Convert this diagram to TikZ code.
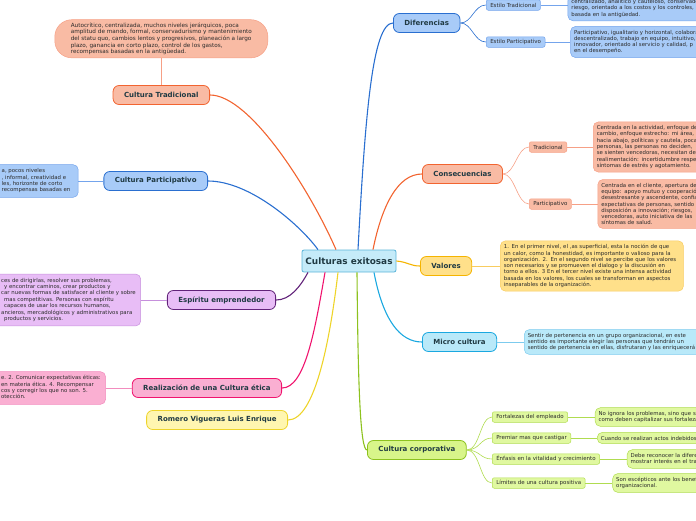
\documentclass[tikz,border=0pt]{standalone}
\usepackage{fontspec}
\setmainfont{DejaVu Sans}
\usetikzlibrary{positioning}

\definecolor{toptext}{HTML}{203A43}
\definecolor{notetext}{HTML}{2B2B2B}
\definecolor{cxfill}{HTML}{C5EBF9}
\definecolor{cxline}{HTML}{5BB4D8}
\definecolor{tradfill}{HTML}{F9BBA4}
\definecolor{tradline}{HTML}{F26430}
\definecolor{tradsoft}{HTML}{F6A086}
\definecolor{partfill}{HTML}{A8CBF8}
\definecolor{partline}{HTML}{2A6FD0}
\definecolor{partsoft}{HTML}{74A4EC}
\definecolor{espfill}{HTML}{E8BDF6}
\definecolor{espline}{HTML}{62237A}
\definecolor{espsoft}{HTML}{C690DC}
\definecolor{realfill}{HTML}{FAAFD2}
\definecolor{realline}{HTML}{F0146E}
\definecolor{realsoft}{HTML}{F28CBE}
\definecolor{romfill}{HTML}{FFF6B0}
\definecolor{romline}{HTML}{EED42A}
\definecolor{valfill}{HTML}{FFE08A}
\definecolor{valline}{HTML}{F5B400}
\definecolor{valsoft}{HTML}{F8CC60}
\definecolor{microfill}{HTML}{B9E9F9}
\definecolor{microline}{HTML}{1AA8E0}
\definecolor{microsoft}{HTML}{7CCBEE}
\definecolor{corpfill}{HTML}{D8F58A}
\definecolor{corpline}{HTML}{8DC21F}
\definecolor{corpsubfill}{HTML}{E0F8A0}
\definecolor{corpsoft}{HTML}{B0DC50}

% visible part of a note cut by the left edge
\newcommand{\cutleft}[2]{\hspace*{40pt}\makebox[#1][l]{\begin{tabular}{@{}l@{}}#2\end{tabular}}}

\tikzset{
  central/.style={draw=cxline, fill=cxfill, line width=0.8pt, rounded corners=2pt,
    minimum width=94pt, minimum height=22pt, text=toptext,
    font=\fontsize{8.9}{10}\selectfont\bfseries},
  topic/.style={draw, line width=0.8pt, rounded corners=6pt, minimum height=19pt,
    inner xsep=11pt, text=toptext, font=\fontsize{7}{8}\selectfont\bfseries},
  subtopic/.style={draw, line width=0.5pt, rounded corners=2pt, minimum height=10.5pt,
    inner xsep=4pt, inner ysep=1pt, text=notetext, font=\fontsize{5.5}{6.5}\selectfont},
  note/.style={draw, line width=0.5pt, rounded corners=5pt, inner sep=3.5pt, align=left,
    text=notetext, font=\fontsize{5.4}{6.3}\selectfont},
  cutnote/.style={draw, line width=0.5pt, rounded corners=5pt, inner sep=3.5pt,
    text=notetext, font=\fontsize{5.4}{6.4}\selectfont},
  branch/.style={line width=1.1pt},
  twig/.style={line width=0.6pt},
}

\begin{document}
\begin{tikzpicture}[x=1pt,y=-1pt,node distance=26pt]
\useasboundingbox (0,0) rectangle (696,520);
\clip (0,0) rectangle (696,520);

\node[central] (cx) at (349,261) {Culturas exitosas};

% left side
\node[topic, fill=tradfill, draw=tradline, anchor=east] (ctrad) at (210,95) {Cultura Tradicional};
\node[topic, fill=partfill, draw=partline, anchor=east] (cpart) at (208,181) {Cultura Participativo};
\node[topic, fill=espfill, draw=espline, anchor=east] (cesp) at (276,300) {Espíritu emprendedor};
\node[topic, fill=realfill, draw=realline, anchor=east] (creal) at (282,388) {Realización de una Cultura ética};
\node[topic, fill=romfill, draw=romline, anchor=east] (crom) at (288,420) {Romero Vigueras Luis Enrique};

\node[note, fill=tradfill, draw=tradsoft, rounded corners=17pt, inner xsep=16pt, inner ysep=3pt,
  font=\fontsize{5.7}{6.6}\selectfont, above=27pt of ctrad] (ctradn)
  {Autocrítico, centralizada, muchos niveles jerárquicos, poca\\
   amplitud de mando, formal, conservadurismo y mantenimiento\\
   del statu quo, cambios lentos y progresivos, planeación a largo\\
   plazo, ganancia en corto plazo, control de los gastos,\\
   recompensas basadas en la antigüedad.};
\node[cutnote, fill=partfill, draw=partsoft, left=25pt of cpart] (cpartn)
  {\cutleft{73pt}{a, pocos niveles\\, informal, creatividad e\\les, horizonte de corto\\recompensas basadas en}};
\node[cutnote, fill=espfill, draw=espsoft, left=26pt of cesp] (cespn)
  {\cutleft{136pt}{ces de dirigirlas, resolver sus problemas,\\
   \hspace*{3pt}y encontrar caminos, crear productos y\\
   car nuevas formas de satisfacer al cliente y sobre\\
   \hspace*{3pt}mas competitivas. Personas con espíritu\\
   \hspace*{3pt}capaces de usar los recursos humanos,\\
   ancieros, mercadológicos y administrativos para\\
   \hspace*{3pt}productos y servicios.}};
\node[cutnote, fill=realfill, draw=realsoft, left=26pt of creal] (crealn)
  {\cutleft{101pt}{e. 2. Comunicar expectativas éticas:\\en materia ética. 4. Recompensar\\cos y corregir los que no son. 5.\\otección.}};

% right side
\node[topic, fill=partfill, draw=partline, anchor=west] (cdif) at (393,23) {Diferencias};
\node[topic, fill=tradfill, draw=tradline, anchor=west] (ccons) at (422,174) {Consecuencias};
\node[topic, fill=valfill, draw=valline, anchor=west] (cval) at (420,266) {Valores};
\node[topic, fill=microfill, draw=microline, anchor=west] (cmicro) at (422,342) {Micro cultura};
\node[topic, fill=corpfill, draw=corpline, anchor=west] (ccorp) at (367,450) {Cultura corporativa};

\node[subtopic, fill=partfill, draw=partsoft, anchor=west] (estrad) at (486,5) {Estilo Tradicional};
\node[subtopic, fill=partfill, draw=partsoft, anchor=west] (espart) at (486,42) {Estilo Participativo};
\node[note, fill=partfill, draw=partsoft, text width=150pt, anchor=south west]
  (estradn) at ([xshift=27pt,yshift=-16pt]estrad.east)
  {centralizado, analítico y cauteloso, conservador,\\
   riesgo, orientado a los costos y los controles,\\
   basada en la antigüedad.};
\node[note, fill=partfill, draw=partsoft, text width=150pt, right=25pt of espart] (espartn)
  {Participativo, igualitario y horizontal, colaborativo,\\
   descentralizado, trabajo en equipo, intuitivo,\\
   innovador, orientado al servicio y calidad, p\\
   en el desempeño.};

\node[subtopic, fill=tradfill, draw=tradsoft, anchor=west] (trsub) at (529,147) {Tradicional};
\node[subtopic, fill=tradfill, draw=tradsoft, anchor=west] (pasub) at (529,204) {Participativo};
\node[note, fill=tradfill, draw=tradsoft, text width=120pt, right=26pt of trsub] (trsubn)
  {Centrada en la actividad, enfoque de\\
   cambio, enfoque estrecho: mi área,\\
   hacia abajo, políticas y cautela, poca\\
   personas, las personas no deciden,\\
   se sienten vencedoras, necesitan de\\
   realimentación: incertidumbre respecto\\
   síntomas de estrés y agotamiento.};
\node[note, fill=tradfill, draw=tradsoft, text width=120pt, right=26pt of pasub] (pasubn)
  {Centrada en el cliente, apertura de\\
   equipo: apoyo mutuo y cooperación\\
   desestresante y ascendente, confianza\\
   expectativas de personas, sentido\\
   disposición a innovación; riesgos,\\
   vencedoras, auto iniciativa de las\\
   síntomas de salud.};

\node[note, fill=valfill, draw=valsoft, text width=176pt, right=28pt of cval] (cvaln)
  {1. En el primer nivel, el ,as superficial, esta la noción de que\\
   un calor, como la honestidad, es importante o valioso para la\\
   organización. 2. En el segundo nivel se percibe que los valores\\
   son necesarios y se promueven el dialogo y la discusión en\\
   torno a ellos. 3 En el tercer nivel existe una intensa actividad\\
   basada en los valores, los cuales se transforman en aspectos\\
   inseparables de la organización.};
\node[note, fill=microfill, draw=microsoft, text width=185pt, right=27pt of cmicro] (cmicron)
  {Sentir de pertenencia en un grupo organizacional, en este\\
   sentido es importante elegir las personas que tendrán un\\
   sentido de pertenencia en ellas, disfrutaran y las enriquecerá};

\node[subtopic, fill=corpsubfill, draw=corpsoft, anchor=west] (fort) at (492,417) {Fortalezas del empleado};
\node[subtopic, fill=corpsubfill, draw=corpsoft, anchor=west] (prem) at (492,438) {Premiar mas que castigar};
\node[subtopic, fill=corpsubfill, draw=corpsoft, anchor=west] (enf) at (492,459) {Énfasis en la vitalidad y crecimiento};
\node[subtopic, fill=corpsubfill, draw=corpsoft, anchor=west] (lim) at (492,483) {Límites de una cultura positiva};
\node[note, fill=corpsubfill, draw=corpsoft, text width=110pt, right=27pt of fort] (fortn)
  {No ignora los problemas, sino que se\\como deben capitalizar sus fortalezas};
\node[note, fill=corpsubfill, draw=corpsoft, text width=110pt, right=26pt of prem] (premn)
  {Cuando se realizan actos indebidos};
\node[note, fill=corpsubfill, draw=corpsoft, text width=110pt, right=27pt of enf] (enfn)
  {Debe reconocer la diferencia\\mostrar interés en el trabajo};
\node[note, fill=corpsubfill, draw=corpsoft, text width=110pt, right=27pt of lim] (limn)
  {Son escépticos ante los beneficios\\organizacional.};

% main branches
\draw[branch, tradline] ([xshift=-13pt]cx.north) .. controls (310,190) and (250,95) .. (ctrad.east);
\draw[branch, partline] ([xshift=-31pt]cx.north) .. controls (300,225) and (250,181) .. (cpart.east);
\draw[branch, espline] ([xshift=-41pt]cx.south) .. controls (300,287) and (290,300) .. (cesp.east);
\draw[branch, realline] ([xshift=-24pt]cx.south) .. controls (315,330) and (305,388) .. (creal.east);
\draw[branch, romline] ([xshift=-11pt]cx.south) .. controls (330,340) and (315,420) .. (crom.east);
\draw[branch, corpline] ([xshift=8pt]cx.south) .. controls (358,380) and (360,450) .. (ccorp.west);
\draw[branch, partline] ([xshift=9pt]cx.north) .. controls (365,120) and (372,23) .. (cdif.west);
\draw[branch, tradline] ([xshift=24pt]cx.north) .. controls (382,205) and (398,174) .. (ccons.west);
\draw[branch, valline] (cx.east) .. controls (408,262) and (410,266) .. (cval.west);
\draw[branch, microline] ([xshift=25pt]cx.south) .. controls (383,320) and (400,342) .. (cmicro.west);

% twigs
\draw[twig, tradsoft] (ctradn) -- (ctrad);
\draw[twig, partsoft] (cpartn) -- (cpart);
\draw[twig, espsoft] (cespn) -- (cesp);
\draw[twig, realsoft] (crealn) -- (creal);
\draw[twig, partline] (cdif.east) .. controls (472,23) and (474,5) .. (estrad.west);
\draw[twig, partline] (cdif.east) .. controls (472,23) and (474,42) .. (espart.west);
\draw[twig, partsoft] (estrad.east) -- (estrad.east -| estradn.west);
\draw[twig, partsoft] (espart) -- (espartn);
\draw[twig, tradsoft] (ccons.east) .. controls (515,174) and (517,147) .. (trsub.west);
\draw[twig, tradsoft] (ccons.east) .. controls (515,174) and (517,204) .. (pasub.west);
\draw[twig, tradsoft] (trsub) -- (trsubn);
\draw[twig, tradsoft] (pasub) -- (pasubn);
\draw[twig, valsoft] (cval) -- (cvaln);
\draw[twig, microsoft] (cmicro) -- (cmicron);
\draw[twig, corpsoft] (ccorp.east) .. controls (480,450) and (480,417) .. (fort.west);
\draw[twig, corpsoft] (ccorp.east) .. controls (480,450) and (480,438) .. (prem.west);
\draw[twig, corpsoft] (ccorp.east) .. controls (480,450) and (480,459) .. (enf.west);
\draw[twig, corpsoft] (ccorp.east) .. controls (480,450) and (480,483) .. (lim.west);
\draw[twig, corpsoft] (fort) -- (fortn);
\draw[twig, corpsoft] (prem) -- (premn);
\draw[twig, corpsoft] (enf) -- (enfn);
\draw[twig, corpsoft] (lim) -- (limn);
\end{tikzpicture}
\end{document}
